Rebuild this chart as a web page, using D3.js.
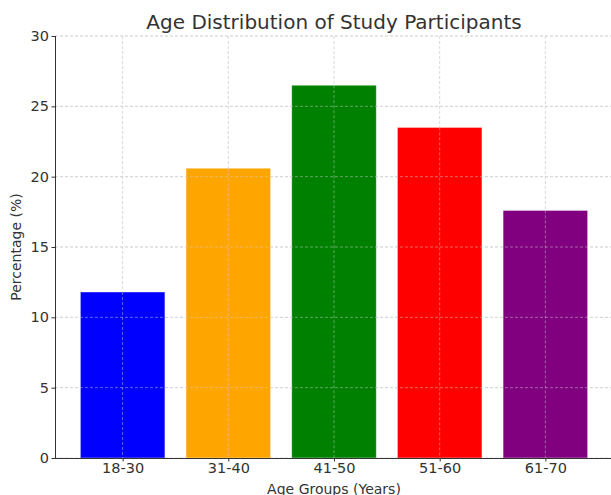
<!DOCTYPE html>
<html>
<head>
<meta charset="utf-8">
<script src="https://cdn.jsdelivr.net/npm/d3@7"></script>
<style>
  html, body { margin: 0; padding: 0; background: #fff; }
  svg { display: block; font-family: "DejaVu Sans", sans-serif; }
</style>
</head>
<body>
<svg id="chart" width="611" height="495"></svg>
<script>
const categories = ["18-30", "31-40", "41-50", "51-60", "61-70"];
const values = [11.8, 20.6, 26.5, 23.5, 17.6];
const colors = ["blue", "orange", "green", "red", "purple"];
const yTicks = [0, 5, 10, 15, 20, 25, 30];
const title = "Age Distribution of Study Participants";
const xLabel = "Age Groups (Years)";
const yLabel = "Percentage (%)";

const svg = d3.select("#chart");
const mLeft = 55, mRight = 613, mTop = 36, mBottom = 458;

const x = d3.scaleLinear().domain([-0.64, categories.length - 1 + 0.64]).range([mLeft, mRight]);
const y = d3.scaleLinear().domain([0, 30]).range([mBottom, mTop]);
const bw = 0.8;

const textColor = "#333";

// grid
const g = svg.append("g");
g.selectAll(".hg").data(yTicks).join("line")
  .attr("x1", mLeft).attr("x2", mRight)
  .attr("y1", d => y(d)).attr("y2", d => y(d))
  .attr("stroke", "#cfcfcf").attr("stroke-width", 0.8).attr("stroke-dasharray", "3,2");
g.selectAll(".vg").data(categories).join("line")
  .attr("x1", (d, i) => x(i)).attr("x2", (d, i) => x(i))
  .attr("y1", mTop).attr("y2", mBottom)
  .attr("stroke", "#cfcfcf").attr("stroke-width", 0.8).attr("stroke-dasharray", "3,2");

// bars
svg.append("g").selectAll("rect").data(values).join("rect")
  .attr("x", (d, i) => x(i - bw / 2))
  .attr("width", (d, i) => x(i + bw / 2) - x(i - bw / 2))
  .attr("y", d => y(d))
  .attr("height", d => y(0) - y(d))
  .attr("fill", (d, i) => colors[i])
  .attr("stroke", "#ffffff").attr("stroke-opacity", 0.5).attr("stroke-width", 0.8);

// grid faintly over bars
svg.append("g").selectAll("line").data(categories).join("line")
  .attr("x1", (d, i) => x(i)).attr("x2", (d, i) => x(i))
  .attr("y1", (d, i) => y(values[i])).attr("y2", mBottom)
  .attr("stroke", "#cfcfcf").attr("stroke-opacity", 0.6).attr("stroke-width", 0.8).attr("stroke-dasharray", "3,2");
svg.append("g").selectAll("line").data(yTicks.filter(t => t > 0)).join("line")
  .attr("x1", mLeft).attr("x2", mRight)
  .attr("y1", d => y(d)).attr("y2", d => y(d))
  .attr("stroke", "#cfcfcf").attr("stroke-opacity", 0.6).attr("stroke-width", 0.8).attr("stroke-dasharray", "3,2");

// axes
const yAxis = d3.axisLeft(y).tickValues(yTicks).tickFormat(d3.format("d")).tickSize(3.5).tickPadding(2.5);
const ya = svg.append("g").attr("transform", `translate(${mLeft},0)`).call(yAxis);
const xAxis = d3.axisBottom(x).tickValues(d3.range(categories.length)).tickFormat(i => categories[i]).tickSize(3.5).tickPadding(1.5);
const xa = svg.append("g").attr("transform", `translate(0,${mBottom})`).call(xAxis);
[ya, xa].forEach(a => {
  a.select(".domain").attr("stroke", textColor).attr("stroke-width", 1);
  a.selectAll(".tick line").attr("stroke", textColor).attr("stroke-width", 1);
  a.selectAll(".tick text").attr("fill", textColor).style("font-size", "14.5px").style("font-family", "DejaVu Sans");
});
ya.select(".domain").attr("d", `M0.5,${mTop}V${mBottom}`);
xa.select(".domain").attr("d", `M${mLeft},0.5H${mRight}`);

// title
svg.append("text").attr("x", (mLeft + mRight) / 2).attr("y", 28.5)
  .attr("text-anchor", "middle").attr("fill", textColor)
  .style("font-size", "20px").text(title);

// axis labels
svg.append("text").attr("x", (mLeft + mRight) / 2).attr("y", 494)
  .attr("text-anchor", "middle").attr("fill", textColor)
  .style("font-size", "14px").text(xLabel);
svg.append("text").attr("transform", `translate(21,${(mTop + mBottom) / 2}) rotate(-90)`)
  .attr("text-anchor", "middle").attr("fill", textColor)
  .style("font-size", "14px").text(yLabel);
</script>
</body>
</html>
